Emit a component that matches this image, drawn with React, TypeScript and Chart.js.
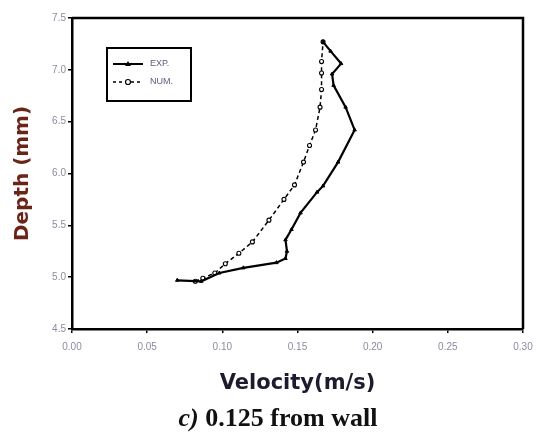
import React, { useEffect, useRef } from "react";
import { Chart, registerables } from "chart.js";

Chart.register(...registerables);

// EXP. (measured) profile, ordered along the curve from bottom to top
const expVelocity = [0.070, 0.086, 0.098, 0.114, 0.136, 0.142, 0.143, 0.142, 0.146, 0.152, 0.163, 0.167, 0.177, 0.188, 0.182, 0.174, 0.173, 0.179, 0.172, 0.167];
const expDepth = [4.97, 4.96, 5.04, 5.09, 5.14, 5.18, 5.25, 5.36, 5.46, 5.62, 5.82, 5.88, 6.11, 6.42, 6.64, 6.85, 6.96, 7.06, 7.18, 7.27];

// NUM. (numerical) profile
const numVelocity = [0.082, 0.087, 0.095, 0.102, 0.111, 0.120, 0.131, 0.141, 0.148, 0.154, 0.158, 0.162, 0.165, 0.166, 0.166, 0.166, 0.167];
const numDepth = [4.96, 4.99, 5.04, 5.13, 5.23, 5.34, 5.55, 5.75, 5.89, 6.11, 6.27, 6.42, 6.64, 6.81, 6.97, 7.08, 7.27];

const xTickLabels = ["0.00", "0.05", "0.10", "0.15", "0.20", "0.25", "0.30"];
const yTickLabels = ["4.5", "5.0", "5.5", "6.0", "6.5", "7.0", "7.5"];

const seriesNames = ["EXP.", "NUM."];
const xTitle = "Velocity(m/s)";
const yTitle = "Depth (mm)";
const captionLetter = "c)";
const captionText = " 0.125 from wall";

const toPoints = (xs: number[], ys: number[]) => xs.map((x, i) => ({ x, y: ys[i] }));

const framePlugin = {
  id: "frameAndLegend",
  afterDraw(chart: any) {
    const { ctx, chartArea } = chart;
    ctx.save();
    // top and right frame lines
    ctx.strokeStyle = "#000";
    ctx.lineWidth = 2.5;
    ctx.beginPath();
    ctx.moveTo(chartArea.left, chartArea.top);
    ctx.lineTo(chartArea.right, chartArea.top);
    ctx.lineTo(chartArea.right, chartArea.bottom);
    ctx.stroke();

    // legend box
    const bx = 107, by = 48, bw = 84, bh = 53;
    ctx.lineWidth = 2;
    ctx.strokeRect(bx, by, bw, bh);

    const rows = [64, 82];
    // EXP sample
    ctx.lineWidth = 2;
    ctx.setLineDash([]);
    ctx.beginPath();
    ctx.moveTo(113, rows[0]);
    ctx.lineTo(143, rows[0]);
    ctx.stroke();
    ctx.fillStyle = "#000";
    ctx.beginPath();
    ctx.moveTo(128, rows[0] - 3);
    ctx.lineTo(131, rows[0] + 2);
    ctx.lineTo(125, rows[0] + 2);
    ctx.closePath();
    ctx.fill();
    // NUM sample
    ctx.lineWidth = 1.5;
    ctx.setLineDash([3, 3]);
    ctx.beginPath();
    ctx.moveTo(113, rows[1]);
    ctx.lineTo(143, rows[1]);
    ctx.stroke();
    ctx.setLineDash([]);
    ctx.fillStyle = "#fff";
    ctx.beginPath();
    ctx.arc(128, rows[1], 2.5, 0, Math.PI * 2);
    ctx.fill();
    ctx.lineWidth = 1.2;
    ctx.stroke();

    ctx.fillStyle = "#5a5f7a";
    ctx.font = "9px 'Liberation Sans', Arial, sans-serif";
    ctx.textBaseline = "middle";
    ctx.textAlign = "left";
    ctx.fillText(seriesNames[0], 150, rows[0]);
    ctx.fillText(seriesNames[1], 150, rows[1]);
    ctx.restore();
  },
};

export default function App() {
  const ref = useRef<HTMLCanvasElement | null>(null);

  useEffect(() => {
    if (!ref.current) return;
    const chart = new Chart(ref.current, {
      type: "scatter",
      data: {
        datasets: [
          {
            label: seriesNames[0],
            data: toPoints(expVelocity, expDepth),
            showLine: true,
            borderColor: "#000",
            backgroundColor: "#000",
            borderWidth: 2.2,
            pointStyle: "triangle",
            pointRadius: 2,
            pointBackgroundColor: "#000",
            pointBorderColor: "#000",
            pointBorderWidth: 1,
          },
          {
            label: seriesNames[1],
            data: toPoints(numVelocity, numDepth),
            showLine: true,
            borderColor: "#000",
            backgroundColor: "#fff",
            borderWidth: 1.5,
            borderDash: [4, 3],
            pointStyle: "circle",
            pointRadius: 2,
            pointBackgroundColor: "#fff",
            pointBorderColor: "#000",
            pointBorderWidth: 1.1,
          },
        ],
      },
      options: {
        animation: false,
        responsive: false,
        maintainAspectRatio: false,
        layout: { padding: { left: 0, right: 13, top: 18, bottom: 0 } },
        plugins: {
          legend: { display: false },
          tooltip: { enabled: false },
        },
        scales: {
          x: {
            type: "linear",
            min: 0,
            max: 0.3,
            afterBuildTicks: (s: any) => {
              s.ticks = xTickLabels.map((t) => ({ value: parseFloat(t) }));
            },
            afterFit: (s: any) => {
              s.height = 111;
              s.paddingLeft = 0;
              s.paddingRight = 0;
            },
            ticks: {
              callback: (_v: any, i: number) => xTickLabels[i],
              color: "#8a8ca0",
              font: { family: "'Liberation Sans', Arial, sans-serif", size: 10 },
              padding: 8,
              maxRotation: 0,
            },
            grid: {
              display: true,
              drawOnChartArea: false,
              drawTicks: true,
              tickLength: 4,
              color: "#000",
              lineWidth: 1.5,
            },
            border: { display: true, color: "#000", width: 2.5 },
            title: {
              display: true,
              text: xTitle,
              color: "#1c1c2e",
              font: { family: "'DejaVu Sans', sans-serif", size: 21, weight: "bold" },
              padding: { top: 0, bottom: 44 },
            },
          },
          y: {
            type: "linear",
            min: 4.5,
            max: 7.5,
            afterBuildTicks: (s: any) => {
              s.ticks = yTickLabels.map((t) => ({ value: parseFloat(t) }));
            },
            afterFit: (s: any) => {
              s.width = 72;
            },
            ticks: {
              callback: (_v: any, i: number) => yTickLabels[i],
              color: "#8a8ca0",
              font: { family: "'Liberation Sans', Arial, sans-serif", size: 10 },
              padding: 2,
            },
            grid: {
              display: true,
              drawOnChartArea: false,
              drawTicks: true,
              tickLength: 4,
              color: "#000",
              lineWidth: 1.5,
            },
            border: { display: true, color: "#000", width: 2.5 },
            title: {
              display: true,
              text: yTitle,
              color: "#6b2418",
              font: { family: "'DejaVu Sans', sans-serif", size: 20, weight: "bold" },
              padding: { top: 11, bottom: 0 },
            },
          },
        },
      },
      plugins: [framePlugin],
    });
    return () => chart.destroy();
  }, []);

  return (
    <div style={{ position: "absolute", left: 0, top: 0, width: 536, height: 440, background: "#fff" }}>
      <canvas ref={ref} width={536} height={440} style={{ display: "block" }} />
      <div
        style={{
          position: "absolute",
          left: 0,
          top: 403,
          width: 556,
          textAlign: "center",
          fontFamily: "'Liberation Serif', 'Times New Roman', serif",
          fontWeight: "bold",
          fontSize: 26,
          lineHeight: "30px",
          color: "#111",
          whiteSpace: "nowrap",
        }}
      >
        <i>{captionLetter}</i>
        {captionText}
      </div>
    </div>
  );
}
